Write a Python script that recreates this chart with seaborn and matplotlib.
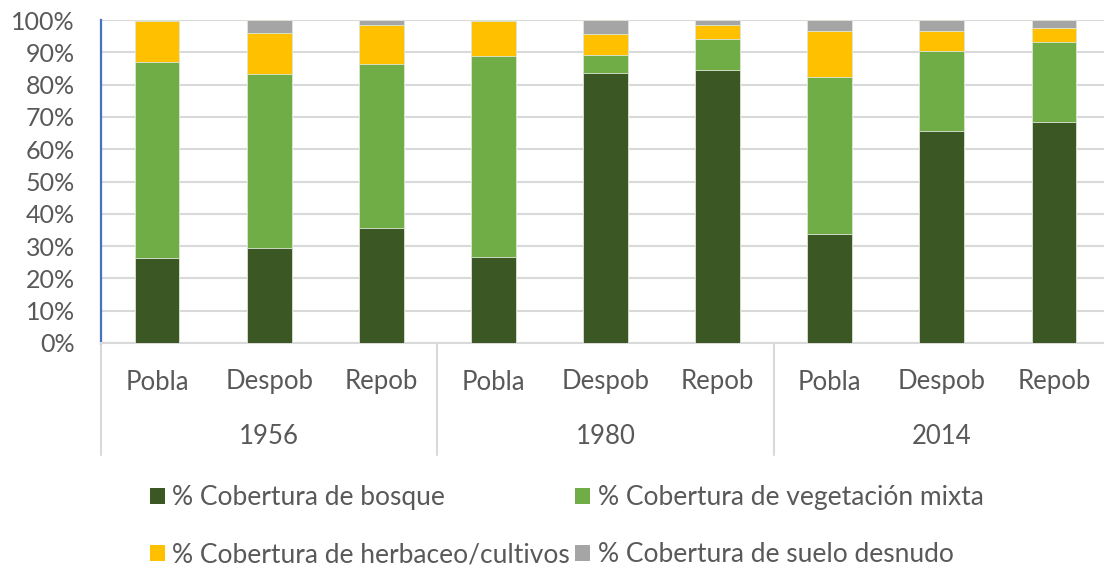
import numpy as np
import pandas as pd
import matplotlib
matplotlib.use("Agg")
import matplotlib.pyplot as plt
import matplotlib.transforms as mtransforms
from matplotlib.lines import Line2D
from matplotlib.patches import Patch
import seaborn as sns

# ---- data ----
years = ["1956", "1980", "2014"]
subcats = ["Pobla", "Despob", "Repob"]
bosque = [26.2, 29.3, 35.5, 26.6, 83.7, 84.5, 33.8, 65.5, 68.4]
mixta = [60.9, 53.9, 50.8, 62.3, 5.5, 9.5, 48.6, 25.0, 24.7]
herbaceo = [12.6, 12.9, 12.0, 10.8, 6.5, 4.3, 14.3, 6.2, 4.3]
suelo = [0.3, 3.9, 1.7, 0.3, 4.3, 1.7, 3.3, 3.3, 2.6]
series_names = ["% Cobertura de bosque", "% Cobertura de vegetación mixta",
                "% Cobertura de herbaceo/cultivos", "% Cobertura de suelo desnudo"]
colors = ["#3A5724", "#70AD47", "#FFC000", "#A5A5A5"]

sns.set_theme(style="white")
plt.rcParams["font.family"] = ["Lato", "DejaVu Sans"]
TXT = "#595959"

keys = [f"{y} {s}" for y in years for s in subcats]
df = pd.DataFrame({"key": keys, "bosque": bosque, "mixta": mixta,
                   "herbaceo": herbaceo, "suelo": suelo})
vals = df[["bosque", "mixta", "herbaceo", "suelo"]].to_numpy()
cum = np.cumsum(vals, axis=1)

fig = plt.figure(figsize=(11.04, 5.66), dpi=100)
W, H = 1104, 566
x0, x1, ytop, ybot = 101, 1110, 20, 343
ax = fig.add_axes([x0 / W, (H - ybot) / H, (x1 - x0) / W, (ybot - ytop) / H])

# stacked bars: draw cumulative totals from top down
for i in range(3, -1, -1):
    d = pd.DataFrame({"key": keys, "v": cum[:, i]})
    sns.barplot(data=d, x="key", y="v", order=keys, color=colors[i],
                width=0.4, saturation=1, ax=ax, edgecolor="#dfe8d8",
                linewidth=0.6, zorder=3)

ax.set_ylim(0, 100)
ax.set_xlim(-0.5, 8.5)
ax.set_yticks(np.arange(0, 101, 10))
ax.set_yticklabels([f"{v}%" for v in range(0, 101, 10)], fontsize=18, color=TXT)
ax.tick_params(axis="y", length=0, pad=19)
ax.set_xticks([])
ax.set_xlabel("")
ax.set_ylabel("")
ax.grid(axis="y", color="#D9D9D9", linewidth=1.5, zorder=0)
ax.set_axisbelow(True)
for s in ["top", "right"]:
    ax.spines[s].set_visible(False)
ax.spines["left"].set_color("#4472C4")
ax.spines["left"].set_linewidth(1.6)
ax.spines["bottom"].set_color("#D9D9D9")
ax.spines["bottom"].set_linewidth(1.5)

# multi-level category axis
trans = mtransforms.blended_transform_factory(ax.transData, ax.transAxes)
px = 1.0 / (ybot - ytop)
for i, k in enumerate(keys):
    ax.text(i, -(382 - ybot) * px, subcats[i % 3], transform=trans,
            ha="center", va="center", fontsize=18.5, color=TXT)
for g, y in enumerate(years):
    ax.text(3 * g + 1, -(437 - ybot) * px, y, transform=trans,
            ha="center", va="center", fontsize=18.5, color=TXT)
for xs in [-0.5, 2.5, 5.5, 8.5]:
    ax.add_line(Line2D([xs, xs], [0, -(455 - ybot) * px], transform=trans,
                       color="#D9D9D9", linewidth=1.5, clip_on=False))

# legend filled row-wise: reorder for matplotlib's column-wise filling
order = [0, 2, 1, 3]
handles = [Patch(facecolor=colors[i], edgecolor="none") for i in order]
labels = [series_names[i] for i in order]
fig.legend(handles, labels, loc="upper left",
           bbox_to_anchor=(150 / W, 1 - 485 / H), ncol=2, frameon=False,
           fontsize=19, labelcolor=TXT, handlelength=0.55, handleheight=0.55,
           handletextpad=0.3, columnspacing=0.2, labelspacing=1.23,
           borderaxespad=0, borderpad=0)

fig.savefig("out.png", dpi=100)
